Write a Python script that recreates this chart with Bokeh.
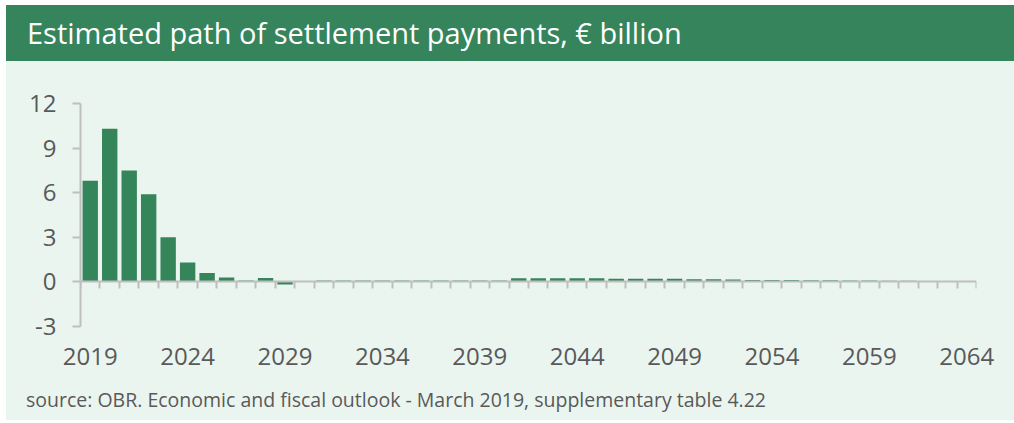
from bokeh.plotting import figure
from bokeh.models import (FixedTicker, LinearAxis, Range1d, ColumnDataSource, Div)
from bokeh.layouts import column
from bokeh.embed import file_html
from bokeh.resources import INLINE

# ---- data ----
years = list(range(2019, 2065))
payments = [6.8, 10.3, 7.5, 5.9, 3.0, 1.3, 0.6, 0.3, 0.1, 0.27,
            -0.18, 0.0,
            0.1, 0.1, 0.1, 0.1, 0.1, 0.1, 0.1, 0.1, 0.1, 0.1,
            0.25, 0.25, 0.25, 0.25, 0.25,
            0.22, 0.22, 0.22, 0.22,
            0.18, 0.18, 0.16, 0.13, 0.13, 0.13,
            0.11, 0.11, 0.09, 0.09, 0.07, 0.07, 0.05, 0.02, 0.02]
y_ticks = [-3, 0, 3, 6, 9, 12]
x_label_years = [2019, 2024, 2029, 2034, 2039, 2044, 2049, 2054, 2059, 2064]

title_text = "Estimated path of settlement payments, € billion"
source_text = "source: OBR. Economic and fiscal outlook - March 2019, supplementary table 4.22"

# ---- styles ----
GREEN = "#35845C"
BAR = "#35855B"
BG = "#EBF5F0"
GREY = "#BFBFBF"
TXT = "#595959"
FONT = "Open Sans"
W = 1008

# ---- header ----
header = Div(
    text=('<div style="margin:0;padding:0 0 0 21px;height:56px;line-height:56px;'
          'white-space:nowrap;font-family:\'Open Sans\';font-size:29px;color:white;">'
          + title_text + '</div>'),
    width=W, height=56,
    styles={"background-color": GREEN, "margin": "0", "padding": "0"})

# ---- main chart ----
src = ColumnDataSource(dict(year=years, value=payments))
p = figure(width=W, height=324,
           x_range=Range1d(years[0] - 0.5, years[-1] + 0.5),
           y_range=Range1d(y_ticks[0], y_ticks[-1]),
           toolbar_location=None, output_backend="svg",
           min_border_left=74, min_border_right=38, min_border_top=42,
           min_border_bottom=59, outline_line_color=None,
           background_fill_color=None, border_fill_color=None,
           styles={"background-color": BG})
p.grid.visible = False

p.vbar(x="year", top="value", width=0.79, source=src,
       fill_color=BAR, line_color=None)

# label axis (bottom)
xa = p.xaxis[0]
xa.ticker = FixedTicker(ticks=x_label_years)
xa.axis_line_color = None
xa.major_tick_line_color = None
xa.minor_tick_line_color = None
xa.major_tick_out = 0
xa.major_tick_in = 0
xa.major_label_standoff = 21
xa.major_label_text_font = FONT
xa.major_label_text_font_size = "24px"
xa.major_label_text_color = TXT

# zero-line axis with category boundary ticks
bounds = [y - 0.5 for y in years] + [years[-1] + 0.5]
zax = LinearAxis(ticker=FixedTicker(ticks=bounds), fixed_location=0,
                 axis_line_color=GREY, axis_line_width=2,
                 major_tick_line_color=GREY, major_tick_line_width=2,
                 major_tick_out=7, major_tick_in=0,
                 minor_tick_line_color=None,
                 major_label_text_color=None, major_label_text_font_size="0px",
                 major_label_standoff=0)
p.add_layout(zax, "below")

ya = p.yaxis[0]
ya.ticker = FixedTicker(ticks=y_ticks)
ya.axis_line_color = GREY
ya.axis_line_width = 2
ya.major_tick_line_color = GREY
ya.major_tick_line_width = 2
ya.major_tick_out = 8
ya.major_tick_in = 0
ya.minor_tick_line_color = None
ya.major_label_standoff = 16
ya.major_label_text_font = FONT
ya.major_label_text_font_size = "24px"
ya.major_label_text_color = TXT
ya.major_label_overrides = {-3: "-3"}

# ---- source ----
footer = Div(
    text=('<div style="margin:0;padding:0 0 0 20px;height:35px;line-height:30px;'
          'white-space:nowrap;font-family:\'Open Sans\';font-size:19.5px;color:' + TXT + ';">'
          + source_text + '</div>'),
    width=W, height=35,
    styles={"background-color": BG, "margin": "0", "padding": "0"})

layout = column(header, p, footer, spacing=0, margin=(5, 0, 0, 6))
open("out.html", "w").write(file_html(layout, INLINE))
